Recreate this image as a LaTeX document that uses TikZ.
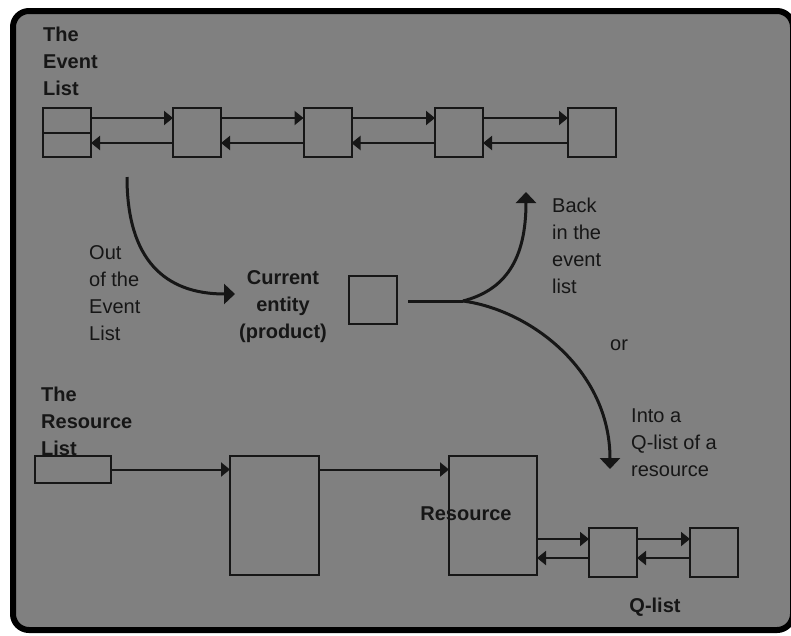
\documentclass[tikz,border=0pt]{standalone}
\usepackage{fontspec}
\setmainfont{Liberation Sans}
\usetikzlibrary{arrows.meta,calc}
\definecolor{bg}{RGB}{128,128,128}
\definecolor{ink}{RGB}{22,22,22}
\begin{document}
\begin{tikzpicture}[x=1pt,y=-1pt,
  box/.style={draw=ink, line width=2pt, rectangle, inner sep=0pt, outer sep=0pt},
  thinarrow/.style={draw=ink, line width=2pt, -{Triangle[length=9pt,width=14pt]}},
  thickarrow/.style={draw=ink, line width=3pt, -{Triangle[length=11pt,width=20pt]}},
  lbl/.style={font=\fontsize{20}{27}\selectfont, text=ink, inner sep=0pt, align=left},
  blbl/.style={lbl, font=\fontsize{20}{27}\selectfont\bfseries}]
\useasboundingbox (0,0) rectangle (791,635);
\fill[white] (0,0) rectangle (791,635);
\begin{scope}
  \clip (0,0) rectangle (791,635);
  \draw[line width=6pt, fill=bg, rounded corners=16pt] (13,11) rectangle (793,630);
\end{scope}

% event list
\node[box, minimum width=48pt, minimum height=49pt] (e1) at (67,132.5) {};
\node[box, minimum width=48pt, minimum height=49pt] (e2) at (197,132.5) {};
\node[box, minimum width=48pt, minimum height=49pt] (e3) at (327.5,132.5) {};
\node[box, minimum width=48pt, minimum height=49pt] (e4) at (459,132.5) {};
\node[box, minimum width=48pt, minimum height=49pt] (e5) at (592,132.5) {};
\draw[ink, line width=2pt] (e1.west) -- (e1.east);
\foreach \a/\b in {e1/e2,e2/e3,e3/e4,e4/e5}{
  \draw[thinarrow] ($(\a.east)+(0,-14.5)$) -- ($(\b.west)+(0,-14.5)$);
  \draw[thinarrow] ($(\b.west)+(0,10.5)$) -- ($(\a.east)+(0,10.5)$);
}

% current entity
\node[box, minimum width=48pt, minimum height=48pt] (c) at (373,300) {};
\coordinate (o1) at (127,177);
\coordinate (o2) at (235,294);
\draw[thickarrow] (o1) .. controls (127,260) and (165,294) .. (o2);
\coordinate (bs) at (408,301);
\coordinate (bj) at (463,301);
\coordinate (bk) at (526,192);
\coordinate (qi) at (610,469);
\draw[ink, line width=3pt] (bs) -- (bj);
\draw[thickarrow] (bj) .. controls (505,290) and (526,260) .. (bk);
\draw[thickarrow] (bj) .. controls (530,310) and (610,370) .. (qi);

% resource list
\node[box, minimum width=76pt, minimum height=27pt] (r0) at (73,469.5) {};
\node[box, minimum width=89pt, minimum height=119pt] (r1) at (274.5,515.5) {};
\node[box, minimum width=88pt, minimum height=119pt] (res) at (493,515.5) {};
\node[box, minimum width=48pt, minimum height=49pt] (q1) at (613,552.5) {};
\node[box, minimum width=48pt, minimum height=49pt] (q2) at (714,552.5) {};
\draw[thinarrow] (r0.east) -- (r0.east -| r1.west);
\draw[thinarrow] (r0.east -| r1.east) -- (r0.east -| res.west);
\coordinate (qf) at ($(q1.west)+(0,-13.5)$);
\coordinate (qb) at ($(q1.west)+(0,5.5)$);
\draw[thinarrow] (qf -| res.east) -- (qf);
\draw[thinarrow] (qb) -- (qb -| res.east);
\draw[thinarrow] ($(q1.east)+(0,-13.5)$) -- ($(q2.west)+(0,-13.5)$);
\draw[thinarrow] ($(q2.west)+(0,5.5)$) -- ($(q1.east)+(0,5.5)$);

% labels
\node[blbl, anchor=north west] (tel) at (43,26.7) {The\\Event\\List};
\node[lbl, anchor=north west] (oel) at (89,245.7) {Out\\of the\\Event\\List};
\node[blbl, anchor=north, align=center] (cur) at (283,270.5) {Current\\entity\\(product)};
\node[lbl, anchor=north west] (bel) at (552,197.7) {Back\\in the\\event\\list};
\node[lbl, anchor=base west] (orl) at (610,350) {or};
\node[lbl, anchor=north west] (iql) at (631,408.7) {Into a\\Q-list of a\\resource};
\node[blbl, anchor=north west] (trl) at (41,386.7) {The\\Resource\\List};
\node[blbl, anchor=base] (rlab) at (466,520) {Resource};
\node[blbl, anchor=base] (qlab) at (655,612) {Q-list};
\end{tikzpicture}
\end{document}
